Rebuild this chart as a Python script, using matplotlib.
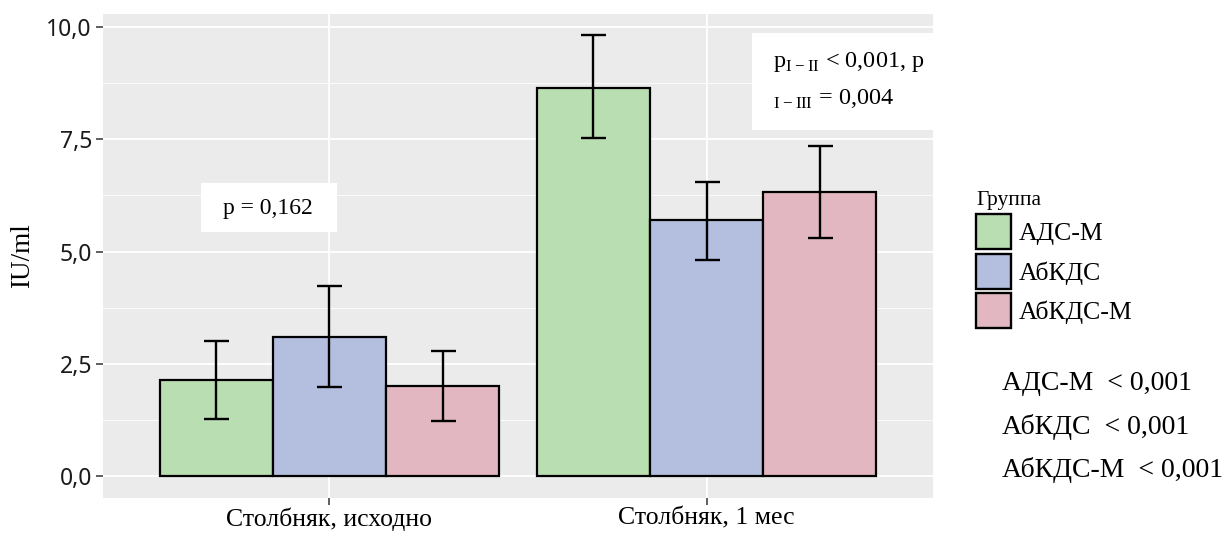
import numpy as np
import matplotlib
matplotlib.use("Agg")
import matplotlib.pyplot as plt
from matplotlib.patches import Patch, Rectangle

# data
categories = ["Столбняк, исходно", "Столбняк, 1 мес"]
groups = ["АДС-М", "АбКДС", "АбКДС-М"]
means = {
    "АДС-М": [2.13, 8.65],
    "АбКДС": [3.10, 5.70],
    "АбКДС-М": [2.01, 6.33],
}
err_low = {
    "АДС-М": [1.27, 7.53],
    "АбКДС": [1.98, 4.82],
    "АбКДС-М": [1.23, 5.29],
}
err_high = {
    "АДС-М": [3.01, 9.82],
    "АбКДС": [4.24, 6.55],
    "АбКДС-М": [2.78, 7.36],
}
colors = ["#b9deb1", "#b4bfe0", "#e3b7c1"]
yticks = [0.0, 2.5, 5.0, 7.5, 10.0]
ytick_labels = ["0,0", "2,5", "5,0", "7,5", "10,0"]
within_p = ["АДС-М  < 0,001", "АбКДС  < 0,001", "АбКДС-М  < 0,001"]

serif = "Liberation Serif"
plt.rcParams["mathtext.fontset"] = "custom"
plt.rcParams["mathtext.rm"] = serif

fig = plt.figure(figsize=(12.32, 5.33), dpi=100)
ax = fig.add_axes([103 / 1232, 35 / 533, 830 / 1232, 484 / 533])
ax.set_facecolor("#ebebeb")

x = np.arange(1, len(categories) + 1)
w = 0.3
for i, g in enumerate(groups):
    pos = x + (i - 1) * w
    m = np.array(means[g])
    lo = m - np.array(err_low[g])
    hi = np.array(err_high[g]) - m
    ax.bar(pos, m, width=w, color=colors[i], edgecolor="black", linewidth=1.6, zorder=3)
    ax.errorbar(pos, m, yerr=[lo, hi], fmt="none", ecolor="black",
                elinewidth=1.7, capsize=9, capthick=1.7, zorder=4)

ax.set_xlim(0.4, 2.6)
ax.set_ylim(-0.49, 10.29)
ax.set_xticks(x)
ax.set_xticklabels(categories, fontsize=18.5, family=serif)
ax.set_yticks(yticks)
ax.set_yticklabels(ytick_labels, fontsize=16.5, family="Noto Sans", color="#1a1a1a")
ax.set_yticks([1.25, 3.75, 6.25, 8.75], minor=True)
ax.grid(which="major", color="white", linewidth=1.3, zorder=0)
ax.grid(which="minor", axis="y", color="white", linewidth=0.6, zorder=0)
ax.set_axisbelow(True)
ax.tick_params(axis="both", which="major", length=5, width=1.1, color="#333333", pad=3)
ax.tick_params(axis="x", which="major", pad=2)
ax.tick_params(axis="y", which="minor", length=0)
for s in ax.spines.values():
    s.set_visible(False)
ax.set_ylabel("IU/ml", fontsize=19.5, family=serif, labelpad=8)

# p-value boxes
ax.add_patch(Rectangle((0.659, 5.43), 0.361, 1.10, facecolor="white",
                       edgecolor="none", zorder=5))
ax.text(0.838, 5.95, "p = 0,162", fontsize=17, family=serif,
        ha="center", va="center", zorder=6)
ax.add_patch(Rectangle((2.12, 7.71), 0.6, 2.16, facecolor="white",
                       edgecolor="none", zorder=5, clip_on=False))
ax.text(2.175, 9.22, r"p$_{\mathrm{I-II}}$ < 0,001, p", fontsize=17.5, family=serif,
        ha="left", va="center", zorder=6)
ax.text(2.175, 8.38, r"$_{\mathrm{I-III}}$ = 0,004", fontsize=17.5, family=serif,
        ha="left", va="center", zorder=6)

# legend
handles = [Patch(facecolor=c, edgecolor="black", linewidth=1.7) for c in colors]
leg = fig.legend(handles, groups, loc="upper left",
                 bbox_to_anchor=(976 / 1232, 1 - 191 / 533),
                 frameon=False, title="Группа", alignment="left",
                 prop={"family": serif, "size": 18.5},
                 title_fontproperties={"family": serif, "size": 15.5},
                 handlelength=1.36, handleheight=1.72, handletextpad=0.31,
                 labelspacing=0.17, borderaxespad=0, borderpad=0)

for j, t in enumerate(within_p):
    fig.text(1002 / 1232, 1 - (383 + 43.5 * j) / 533, t, fontsize=20,
             family=serif, va="center", ha="left")

fig.savefig("out.png", dpi=100)
